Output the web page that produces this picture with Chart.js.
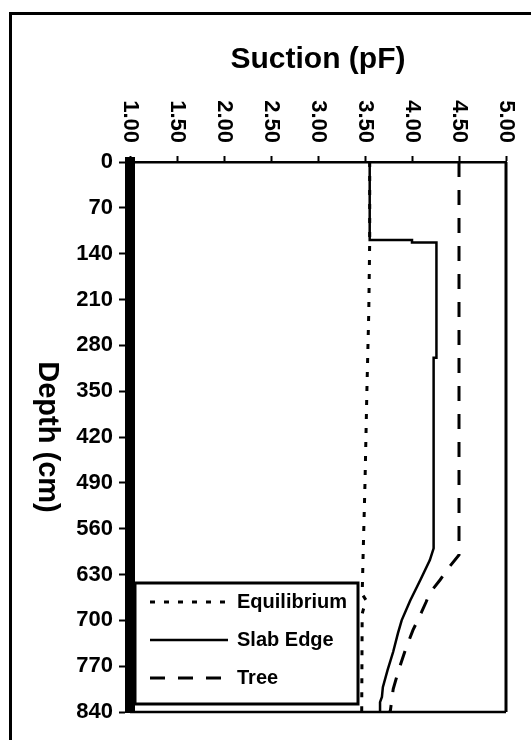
<!DOCTYPE html>
<html>
<head>
<meta charset="utf-8">
<script src="https://cdn.jsdelivr.net/npm/chart.js@4"></script>
<style>
  html, body { margin: 0; padding: 0; background: #fff; overflow: hidden; }
  #wrap { position: relative; width: 531px; height: 740px; }
  #frame { position: absolute; left: 9px; top: 12px; width: 560px; height: 780px;
           border-left: 3px solid #000; border-top: 3px solid #000; }
  #chart { position: absolute; left: 0; top: 0; }
</style>
</head>
<body>
<div id="wrap">
  <div id="frame"></div>
  <canvas id="chart" width="531" height="740"></canvas>
</div>
<script>
// Suction profiles vs depth
const xTitle = 'Suction (pF)';
const yTitle = 'Depth (cm)';
const seriesLabels = ['Equilibrium', 'Slab Edge', 'Tree'];

const eqDepth   = [0, 119, 230, 350, 490, 600, 660, 669, 690, 840];
const eqSuction = [3.55, 3.55, 3.54, 3.52, 3.50, 3.48, 3.47, 3.51, 3.47, 3.465];

const slabDepth   = [0, 119, 119, 123, 123, 299, 299, 590, 608, 638, 670, 700, 720, 748, 776, 802, 817, 825, 840];
const slabSuction = [3.55, 3.55, 4.00, 4.00, 4.26, 4.26, 4.23, 4.23, 4.19, 4.09, 3.98, 3.89, 3.85, 3.80, 3.74, 3.69, 3.68, 3.66, 3.66];

const treeDepth   = [0, 600, 618, 638, 658, 672, 688, 715, 745, 775, 805, 838, 840];
const treeSuction = [4.50, 4.50, 4.40, 4.30, 4.19, 4.15, 4.10, 4.01, 3.93, 3.86, 3.80, 3.77, 3.76];

const FONT = "'Liberation Sans', Arial, sans-serif";

const toPoints = (xs, ys) => xs.map((x, i) => ({ x, y: ys[i] }));

const datasets = [
  {
    label: seriesLabels[0],
    data: toPoints(eqSuction, eqDepth),
    borderColor: '#000',
    borderWidth: 3,
    borderDash: [5, 9],
    showLine: true,
    pointRadius: 0
  },
  {
    label: seriesLabels[1],
    data: toPoints(slabSuction, slabDepth),
    borderColor: '#000',
    borderWidth: 2.5,
    showLine: true,
    pointRadius: 0
  },
  {
    label: seriesLabels[2],
    data: toPoints(treeSuction, treeDepth),
    borderColor: '#000',
    borderWidth: 3,
    borderDash: [15, 13],
    showLine: true,
    pointRadius: 0
  }
];

// custom bits: rotated top labels, clockwise y title, plot frame, boxed legend
const extras = {
  id: 'extras',
  afterDraw(chart) {
    const ctx = chart.ctx;
    const area = chart.chartArea;
    const xs = chart.scales.x;
    const ys = chart.scales.y;
    ctx.save();

    // right + bottom edges of the plot
    ctx.strokeStyle = '#000';
    ctx.lineWidth = 3;
    ctx.beginPath();
    ctx.moveTo(area.right, area.top);
    ctx.lineTo(area.right, area.bottom);
    ctx.stroke();
    ctx.lineWidth = 2.5;
    ctx.beginPath();
    ctx.moveTo(area.left, area.bottom);
    ctx.lineTo(area.right, area.bottom);
    ctx.stroke();

    // legend box
    const lx = area.left + 5, lr = area.left + 228;
    const lt = area.bottom - 129, lb = area.bottom - 8;
    ctx.fillStyle = '#fff';
    ctx.fillRect(lx, lt, lr - lx, lb - lt);
    ctx.lineWidth = 3;
    ctx.strokeRect(lx, lt, lr - lx, lb - lt);
    ctx.font = 'bold 20px ' + FONT;
    ctx.textBaseline = 'middle';
    ctx.textAlign = 'left';
    ctx.fillStyle = '#000';
    chart.data.datasets.forEach((ds, i) => {
      const ry = lt + 19 + i * 38;
      ctx.lineWidth = ds.borderWidth;
      ctx.setLineDash(ds.borderDash || []);
      ctx.beginPath();
      ctx.moveTo(lx + 15, ry);
      ctx.lineTo(lx + 93, ry);
      ctx.stroke();
      ctx.setLineDash([]);
      ctx.fillText(ds.label, lx + 102, ry);
    });

    // top tick labels, reading downward
    ctx.font = 'bold 22px ' + FONT;
    ctx.textAlign = 'right';
    ctx.textBaseline = 'middle';
    xs.ticks.forEach(t => {
      const px = xs.getPixelForValue(t.value);
      ctx.save();
      ctx.translate(px, area.top - 19);
      ctx.rotate(Math.PI / 2);
      ctx.fillText(Number(t.value).toFixed(2), 0, 0);
      ctx.restore();
    });

    // y title, reading downward
    ctx.font = 'bold 29px ' + FONT;
    ctx.textAlign = 'center';
    ctx.save();
    ctx.translate(ys.left + 47, (area.top + area.bottom) / 2);
    ctx.rotate(Math.PI / 2);
    ctx.fillText(yTitle, 0, 0);
    ctx.restore();

    ctx.restore();
  }
};

new Chart(document.getElementById('chart'), {
  type: 'scatter',
  data: { datasets },
  options: {
    responsive: false,
    animation: false,
    devicePixelRatio: 1,
    layout: { padding: { left: 0, top: 0, right: 25, bottom: 28 } },
    plugins: {
      legend: { display: false },
      tooltip: { enabled: false }
    },
    scales: {
      x: {
        type: 'linear',
        position: 'top',
        min: 1,
        max: 5,
        afterFit: s => { s.height = 162; },
        title: {
          display: true,
          text: xTitle,
          color: '#000',
          font: { family: FONT, size: 30, weight: 'bold' },
          padding: { top: 42, bottom: 0 }
        },
        ticks: { stepSize: 0.5, display: false },
        grid: { drawOnChartArea: false, drawTicks: true, tickLength: 6, tickWidth: 2, color: '#000' },
        border: { display: true, color: '#000', width: 2.5 }
      },
      y: {
        type: 'linear',
        position: 'left',
        reverse: true,
        min: 0,
        max: 840,
        afterFit: s => { s.width = 130; },
        ticks: {
          stepSize: 70,
          color: '#000',
          padding: 6,
          font: { family: FONT, size: 22, weight: 'bold' }
        },
        grid: { drawOnChartArea: false, drawTicks: true, tickLength: 11, tickWidth: 2, color: '#000' },
        border: { display: true, color: '#000', width: 10 }
      }
    }
  },
  plugins: [extras]
});
</script>
</body>
</html>
